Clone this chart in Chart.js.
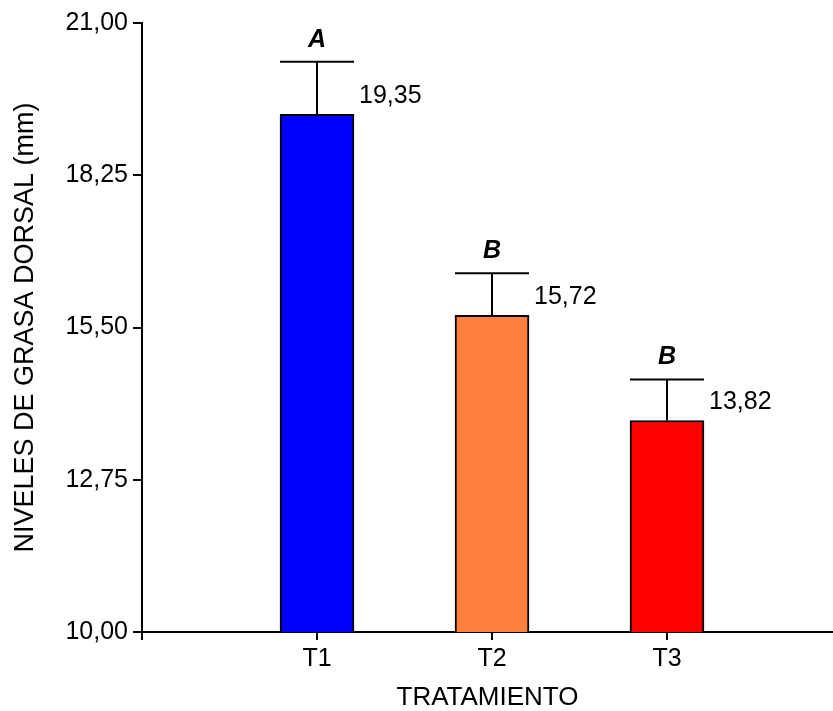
<!DOCTYPE html>
<html>
<head>
<meta charset="utf-8">
<script src="https://cdn.jsdelivr.net/npm/chart.js@4/dist/chart.umd.min.js"></script>
<style>
  html, body { margin: 0; padding: 0; background: #fff; }
  #wrap { width: 833px; height: 711px; position: relative; }
</style>
</head>
<body>
<div id="wrap"><canvas id="chart"></canvas></div>
<script>
const categories = ["T1", "T2", "T3"];
const means = [19.35, 15.72, 13.82];
const errors = [0.95, 0.76, 0.74];
const letters = ["A", "B", "B"];
const barColors = ["#0000ff", "#ff7f40", "#ff0000"];
const yTicks = [10, 12.75, 15.5, 18.25, 21];

const FONT = "'Liberation Sans', Arial, sans-serif";

function formatComma(v) {
  return v.toFixed(2).replace(".", ",");
}

// barras de error, letras y valores
const annotatePlugin = {
  id: "annotate",
  afterDatasetsDraw(chart) {
    const ctx = chart.ctx;
    const yScale = chart.scales.y;
    const meta = chart.getDatasetMeta(0);
    ctx.save();
    meta.data.forEach((bar, i) => {
      const half = bar.width / 2;
      const topY = yScale.getPixelForValue(means[i]);
      const errY = yScale.getPixelForValue(means[i] + errors[i]);
      ctx.strokeStyle = "#000";
      ctx.lineWidth = 2;
      ctx.beginPath();
      ctx.moveTo(bar.x, topY);
      ctx.lineTo(bar.x, errY);
      ctx.moveTo(bar.x - half, errY);
      ctx.lineTo(bar.x + half, errY);
      ctx.stroke();

      ctx.fillStyle = "#000";
      ctx.textBaseline = "middle";
      ctx.textAlign = "center";
      ctx.font = "italic bold 25px " + FONT;
      ctx.fillText(letters[i], bar.x, errY - 22);

      ctx.textAlign = "left";
      ctx.font = "25px " + FONT;
      ctx.fillText(formatComma(means[i]), bar.x + half + 5, topY - 18.5);
    });
    ctx.restore();
  },
};

function drawChart() {
  const ctx = document.getElementById("chart");
  const data = {
    datasets: [
      {
        data: categories.map((c, i) => ({ x: i + 1, y: means[i] })),
        backgroundColor: barColors,
        borderColor: "#000",
        borderWidth: 2,
        borderSkipped: false,
        barThickness: 74,
      },
    ],
  };
  const config = {
    type: "bar",
    data: data,
    options: {
      responsive: true,
      maintainAspectRatio: false,
      animation: false,
      layout: { padding: { top: 23, right: 0, left: 0, bottom: 0 } },
      plugins: {
        legend: { display: false },
        tooltip: { enabled: false },
      },
      scales: {
        x: {
          type: "linear",
          offset: false,
          min: 0,
          max: 691 / 175,
          afterBuildTicks: (scale) => {
            scale.ticks = [0, 1, 2, 3].map((v) => ({ value: v }));
          },
          afterFit: (scale) => {
            scale.height = 79;
          },
          border: { display: true, color: "#000", width: 2 },
          grid: {
            offset: false,
            drawOnChartArea: false,
            drawTicks: true,
            tickLength: 8,
            color: "#000",
            lineWidth: 2,
          },
          ticks: {
            autoSkip: false,
            maxRotation: 0,
            padding: 4,
            color: "#000",
            font: { family: FONT, size: 25 },
            callback: (v) => categories[v - 1] || "",
          },
          title: {
            display: true,
            text: "TRATAMIENTO",
            color: "#000",
            font: { family: FONT, size: 26, lineHeight: 1 },
            padding: { top: 0, bottom: 0 },
          },
        },
        y: {
          min: 10,
          max: 21,
          afterBuildTicks: (scale) => {
            scale.ticks = yTicks.map((v) => ({ value: v }));
          },
          afterFit: (scale) => {
            scale.width = 142;
          },
          border: { display: true, color: "#000", width: 2 },
          grid: {
            drawOnChartArea: false,
            drawTicks: true,
            tickLength: 9,
            color: "#000",
            lineWidth: 2,
          },
          ticks: {
            padding: 5,
            color: "#000",
            font: { family: FONT, size: 25 },
            callback: (v) => formatComma(v),
          },
          title: {
            display: true,
            text: "NIVELES DE GRASA DORSAL (mm)",
            color: "#000",
            font: { family: FONT, size: 27, lineHeight: 1 },
            padding: { top: 12, bottom: 0 },
          },
        },
      },
    },
    plugins: [annotatePlugin],
  };
  new Chart(ctx, config);
}

drawChart();
</script>
</body>
</html>
